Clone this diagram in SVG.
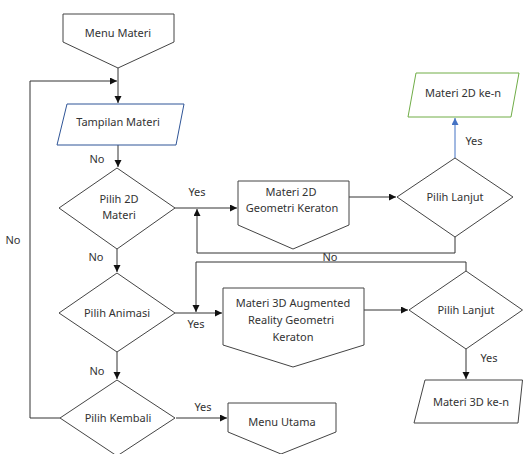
<svg xmlns="http://www.w3.org/2000/svg" width="523" height="454" viewBox="0 0 523 454">
<style>
.n{fill:#fff;stroke:#444;stroke-width:1}
.t{font-family:"Noto Sans","Open Sans",sans-serif;font-size:11px;fill:#333;text-anchor:middle}
.c{fill:none;stroke:#333;stroke-width:1}
</style>
<defs>
<marker id="a" markerUnits="userSpaceOnUse" markerWidth="8" markerHeight="8" refX="7" refY="3.5" orient="auto"><path d="M0,0 L7,3.5 L0,7 z" fill="#111"/></marker>
<marker id="b" markerUnits="userSpaceOnUse" markerWidth="8" markerHeight="8" refX="7" refY="3.5" orient="auto"><path d="M0,0 L7,3.5 L0,7 z" fill="#4472C4"/></marker>
</defs>
<rect width="523" height="454" fill="#fff"/>
<g id="connectors">
<path class="c" d="M118,68 V103" marker-end="url(#a)"/>
<path class="c" d="M60,418 H30 V81 H117" marker-end="url(#a)"/>
<path class="c" d="M118,145 V167" marker-end="url(#a)"/>
<path class="c" d="M175,208 H237" marker-end="url(#a)"/>
<path class="c" d="M349,197 H396" marker-end="url(#a)"/>
<path class="c" d="M455,158 V118" stroke="#4472C4" style="stroke:#4472C4" marker-end="url(#b)"/>
<path class="c" d="M455,237 V253 H197 V209" marker-end="url(#a)"/>
<path class="c" d="M466,271 V262 H196 V312" marker-end="url(#a)"/>
<path class="c" d="M117,249 V272" marker-end="url(#a)"/>
<path class="c" d="M175,313 H222" marker-end="url(#a)"/>
<path class="c" d="M364,310 H408" marker-end="url(#a)"/>
<path class="c" d="M466,349 V379" marker-end="url(#a)"/>
<path class="c" d="M117,352 V379" marker-end="url(#a)"/>
<path class="c" d="M176,418 H227" marker-end="url(#a)"/>
<text class="t" x="97" y="163">No</text>
<text class="t" x="197" y="196">Yes</text>
<text class="t" x="474" y="145">Yes</text>
<text class="t" x="330" y="261">No</text>
<text class="t" x="96" y="261">No</text>
<text class="t" x="196" y="328">Yes</text>
<text class="t" x="489" y="362">Yes</text>
<text class="t" x="97" y="375">No</text>
<text class="t" x="203" y="411">Yes</text>
<text class="t" x="13" y="244">No</text>
</g>
<g id="menu-materi"><polygon class="n" points="63,14 174,14 174,42 118,68 63,42"/><text class="t" x="118" y="37">Menu Materi</text></g>
<g id="tampilan-materi"><polygon class="n" style="stroke:#2F5597" points="67,104 184,104 176,145 57,145"/><text class="t" x="118" y="126">Tampilan Materi</text></g>
<g id="pilih-2d"><polygon class="n" points="117,168 175,208 117,249 59,208"/><text class="t" x="119" y="203">Pilih 2D</text><text class="t" x="119" y="219">Materi</text></g>
<g id="materi-2d"><polygon class="n" points="238,181 349,181 349,225 293,249 238,225"/><text class="t" x="291" y="196">Materi 2D</text><text class="t" x="292" y="212">Geometri Keraton</text></g>
<g id="pilih-lanjut-1"><polygon class="n" points="455,158 513,197 455,237 397,197"/><text class="t" x="455" y="201">Pilih Lanjut</text></g>
<g id="materi-2d-ke-n"><polygon class="n" style="stroke:#70AD47" points="416,73 519,73 511,117 408,117"/><text class="t" x="463" y="97">Materi 2D ke-n</text></g>
<g id="pilih-animasi"><polygon class="n" points="117,273 175,313 117,352 59,313"/><text class="t" x="117" y="317">Pilih Animasi</text></g>
<g id="materi-3d"><polygon class="n" points="223,288 364,288 364,345 293,367 223,345"/><text class="t" x="293" y="307">Materi 3D Augmented</text><text class="t" x="291" y="324">Reality Geometri</text><text class="t" x="293" y="341">Keraton</text></g>
<g id="pilih-lanjut-2"><polygon class="n" points="466,271 522.5,310 466,349 409,310"/><text class="t" x="466" y="314">Pilih Lanjut</text></g>
<g id="materi-3d-ke-n"><polygon class="n" points="425,380 522.5,380 518,423 414,423"/><text class="t" x="471" y="406">Materi 3D ke-n</text></g>
<g id="pilih-kembali"><polygon class="n" points="117,380 175,418 117,456 60,418"/><text class="t" x="118" y="422">Pilih Kembali</text></g>
<g id="menu-utama"><polygon class="n" points="228,403 336,403 336,432 281,454 228,432"/><text class="t" x="282" y="426">Menu Utama</text></g>
</svg>
